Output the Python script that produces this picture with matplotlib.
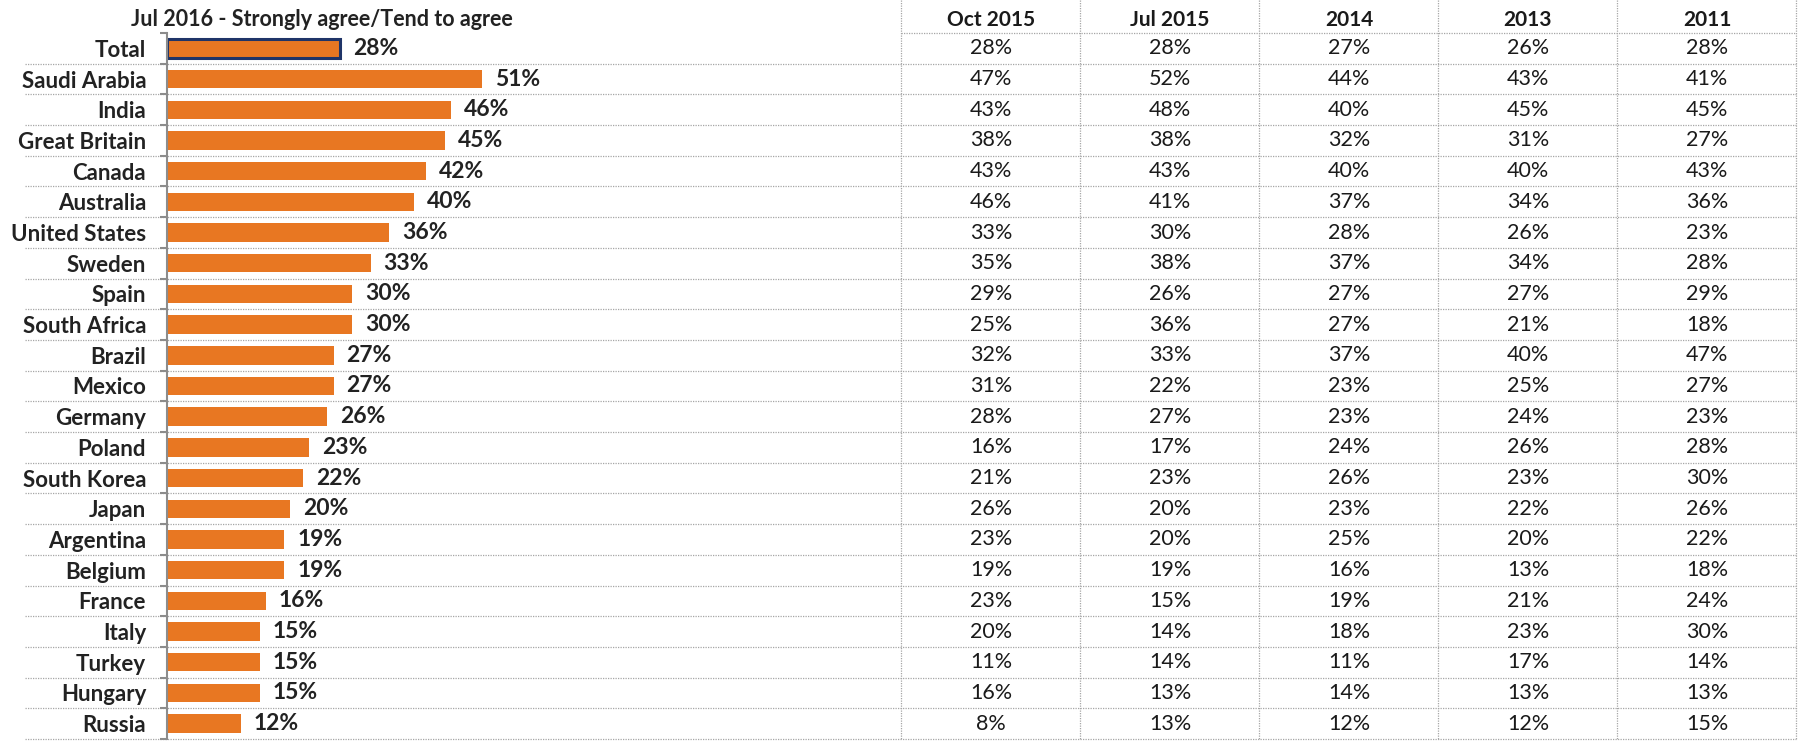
import numpy as np
import matplotlib
matplotlib.use("Agg")
import matplotlib.pyplot as plt

plt.rcParams['font.family'] = ['Lato', 'DejaVu Sans']

countries = ["Total", "Saudi Arabia", "India", "Great Britain", "Canada", "Australia",
             "United States", "Sweden", "Spain", "South Africa", "Brazil", "Mexico",
             "Germany", "Poland", "South Korea", "Japan", "Argentina", "Belgium",
             "France", "Italy", "Turkey", "Hungary", "Russia"]
jul2016 = [28, 51, 46, 45, 42, 40, 36, 33, 30, 30, 27, 27, 26, 23, 22, 20, 19, 19, 16, 15, 15, 15, 12]

columns = ["Oct 2015", "Jul 2015", "2014", "2013", "2011"]
oct2015 = [28, 47, 43, 38, 43, 46, 33, 35, 29, 25, 32, 31, 28, 16, 21, 26, 23, 19, 23, 20, 11, 16, 8]
jul2015 = [28, 52, 48, 38, 43, 41, 30, 38, 26, 36, 33, 22, 27, 17, 23, 20, 20, 19, 15, 14, 14, 13, 13]
y2014 = [27, 44, 40, 32, 40, 37, 28, 37, 27, 27, 37, 23, 23, 24, 26, 23, 25, 16, 19, 18, 11, 14, 12]
y2013 = [26, 43, 45, 31, 40, 34, 26, 34, 27, 21, 40, 25, 24, 26, 23, 22, 20, 13, 21, 23, 17, 13, 12]
y2011 = [28, 41, 45, 27, 43, 36, 23, 28, 29, 18, 47, 27, 23, 28, 30, 26, 22, 18, 24, 30, 14, 13, 15]
table = [oct2015, jul2015, y2014, y2013, y2011]

W, H = 1806, 744
orange = "#E87722"
navy = "#1F3468"
grid_col = "#A6A6A6"
txt = "#222222"

fig = plt.figure(figsize=(W / 100, H / 100), dpi=100)

# pixel layout
top_px, bot_px = 33, 739
spine_px = 167
px_per_pct = 6.17
col0_px, col_w = 991, 179
n = len(countries)
row_h = (bot_px - top_px) / n

ax_pos = [0, (H - bot_px) / H, 1, (bot_px - top_px) / H]

# table / grid axes (full width)
tab = fig.add_axes(ax_pos)
tab.set_xlim((0 - col0_px) / col_w, (W - col0_px) / col_w)
tab.set_ylim(n - 0.5, -0.5)
tab.axis("off")

# bar axes
bar_w_px = 902 - spine_px
ax = fig.add_axes([spine_px / W, ax_pos[1], bar_w_px / W, ax_pos[3]])
ax.set_xlim(0, bar_w_px / px_per_pct)
ax.set_ylim(n - 0.5, -0.5)
ax.patch.set_alpha(0)

y = np.arange(n)
bars = ax.barh(y, jul2016, height=0.6, color=orange, edgecolor="none")
bars[0].set_edgecolor(navy)
bars[0].set_linewidth(2.2)
for yi, v in zip(y, jul2016):
    ax.text(v + 13 / px_per_pct, yi, f"{v}%", va="center", ha="left",
            fontsize=16.5, fontweight="bold", color=txt)

for s in ["top", "right", "bottom"]:
    ax.spines[s].set_visible(False)
ax.spines["left"].set_color("#8C8C8C")
ax.spines["left"].set_linewidth(1.5)
ax.set_xticks([])
ax.set_yticks(y)
ax.set_yticklabels(countries, fontsize=16, fontweight="bold", color=txt)
ax.tick_params(axis="y", which="major", length=0, pad=15)
ax.set_yticks(np.arange(-0.5, n, 1), minor=True)
ax.tick_params(axis="y", which="minor", length=5, width=1.5, color="#8C8C8C")

# grid lines
x_left = (25 - col0_px) / col_w
x_right = 4.5
y_top = -0.5 - top_px / row_h
for b in np.arange(0.5, n, 1):
    tab.plot([x_left, x_right], [b, b], ls=(0, (1, 1)), lw=0.9, color=grid_col, clip_on=False)
tab.plot([-0.5, x_right], [-0.5, -0.5], ls=(0, (1, 1)), lw=0.9, color=grid_col, clip_on=False)
for c in np.arange(-0.5, len(columns), 1):
    tab.plot([c, c], [y_top, n - 0.5], ls=(0, (1, 1)), lw=0.9, color=grid_col, clip_on=False)

# headers and values
head_y = -0.5 - (33 - 19.5) / row_h
for j, name in enumerate(columns):
    tab.text(j, head_y, name, ha="center", va="center", fontsize=15,
             fontweight="bold", color="#1a1a1a", clip_on=False)
    for i, v in enumerate(table[j]):
        tab.text(j, i, f"{v}%", ha="center", va="center", fontsize=15.5, color="#1a1a1a")

tab.text((322 - col0_px) / col_w, head_y, "Jul 2016 - Strongly agree/Tend to agree",
         ha="center", va="center", fontsize=15.5, fontweight="bold", color=txt, clip_on=False)

fig.savefig("out.png", dpi=100)
